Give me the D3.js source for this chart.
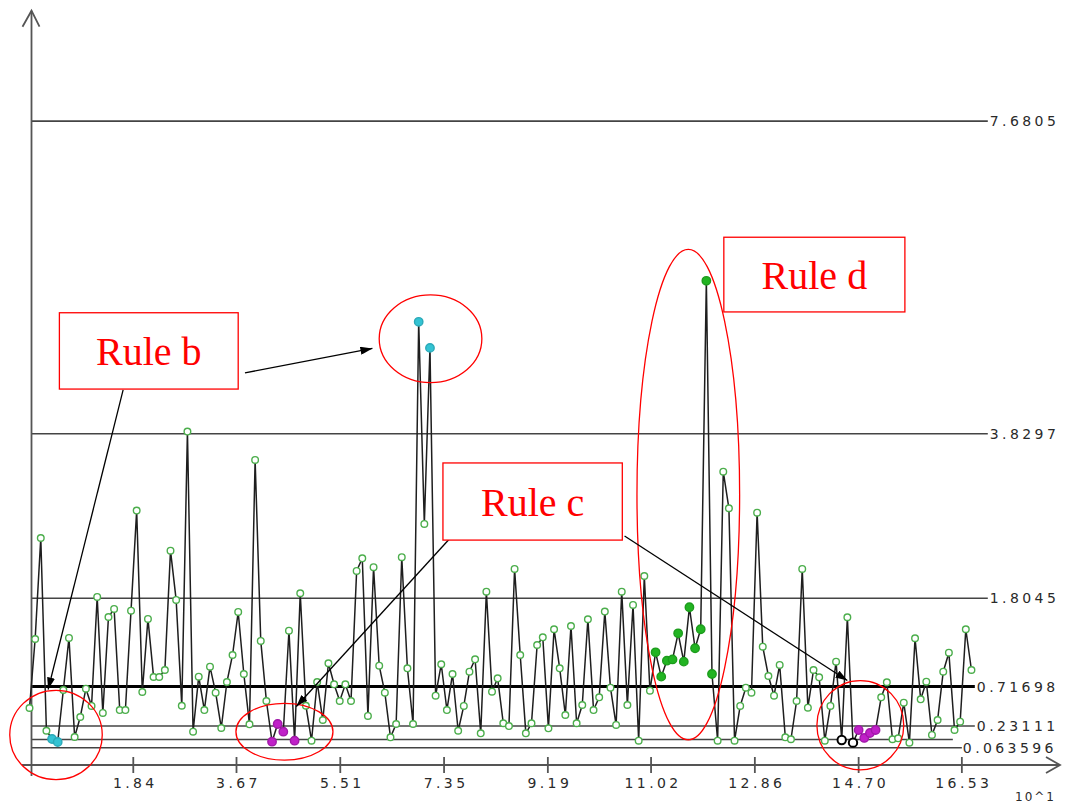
<html>
<head>
<script src="https://d3js.org/d3.v7.min.js"></script>
<style>
    body { margin: 0; background: #fff; }
    svg { display: block; background: #fff; }
    .limit { stroke: #444; stroke-width: 1.6px; }
    .center { stroke: #000; stroke-width: 3px; }
    .axis-line { stroke: #555; stroke-width: 1.8px; fill: none; }
    .data-line { fill: none; stroke: #1e1e1e; stroke-width: 1.5px; }
    .lbl { font-family: 'DejaVu Sans', sans-serif; font-size: 14px; fill: #2a2a2a; letter-spacing: 3.4px; }
    .rule-box { fill: #fff; stroke: #f00; stroke-width: 1.3px; }
    .rule-text { font-family: 'Liberation Serif', 'Times New Roman', serif; font-size: 40px; fill: #f00; }
    .ring { fill: none; stroke: #f00; stroke-width: 1.3px; }
    .note-arrow { stroke: #000; stroke-width: 1.3px; }
</style>
</head>
<body>
<svg id="chart" width="1067" height="805"></svg>
<script>
    // sample statistic, one value per subgroup
    var values = [
        0.452, 1.302, 2.546, 0.172, 0.070, 0.033, 0.674, 1.315, 0.095, 0.341,
        0.690, 0.477, 1.820, 0.391, 1.573, 1.672, 0.427, 0.427, 1.651, 2.883,
        0.649, 1.549, 0.834, 0.834, 0.920, 2.390, 1.783, 0.480, 3.856, 0.160,
        0.838, 0.427, 0.961, 0.641, 0.206, 0.772, 1.105, 1.635, 0.871, 0.251,
        3.507, 1.278, 0.538, 0.037, 0.255, 0.160, 1.404, 0.049, 1.865, 0.480,
        0.049, 0.772, 0.304, 1.003, 0.744, 0.538, 0.744, 0.538, 2.140, 2.296,
        0.354, 2.186, 0.973, 0.641, 0.091, 0.255, 2.309, 0.941, 0.255, 5.208,
        2.719, 4.887, 0.604, 0.991, 0.427, 0.871, 0.172, 0.477, 0.899, 1.052,
        0.140, 1.885, 0.653, 0.818, 0.264, 0.230, 2.165, 1.105, 0.140, 0.264,
        1.228, 1.323, 0.202, 1.422, 0.941, 0.366, 1.462, 0.264, 0.489, 1.545,
        0.427, 0.584, 1.639, 0.702, 0.243, 1.885, 0.489, 1.721, 0.049, 2.078,
        0.665, 1.138, 0.838, 1.035, 1.050, 1.372, 1.023, 1.693, 1.188, 1.422,
        5.713, 0.871, 0.049, 3.363, 2.912, 0.049, 0.477, 0.702, 0.641, 2.858,
        1.207, 0.846, 0.604, 0.982, 0.091, 0.067, 0.538, 2.165, 0.456, 0.920,
        0.830, 0.049, 0.477, 1.023, 0.058, 1.570, 0.025, 0.181, 0.083, 0.144,
        0.181, 0.584, 0.769, 0.067, 0.079, 0.517, 0.025, 1.311, 0.559, 0.776,
        0.120, 0.304, 0.899, 1.133, 0.181, 0.283, 1.422, 0.920
    ];

    // points flagged by each rule
    var cyanIdx = [4, 5, 69, 71];
    var magentaIdx = [43, 44, 45, 47, 147, 148, 149, 150];
    var greenIdx = [111, 112, 113, 114, 115, 116, 117, 118, 119, 120, 121];
    var blackIdx = [144, 146];

    var limitValues = [7.6805, 3.8297, 1.8045, 0.71698, 0.23111, 0.063596];
    var limitLabels = ['7.6805', '3.8297', '1.8045', '0.71698', '0.23111', ''];
    var bottomLabel = '0.063596';

    var tickLabels = ['1.84', '3.67', '5.51', '7.35', '9.19', '11.02', '12.86', '14.70', '16.53'];

    var svg = d3.select('#chart');

    var xscale = d3.scaleLinear().domain([0, 18.27]).range([29.5, 1060]);
    var yscale = d3.scaleLinear().domain([-0.25, 9.04]).range([765, 10.7]);

    var axisX = xscale(0) + 2;

    // limit lines
    var lineEnd = [16.99, 16.99, 16.99, 16.76, 16.76, 16.37];
    limitValues.forEach(function(v, k) {
        svg.append('line')
            .attr('class', k === 3 ? 'center' : 'limit')
            .attr('x1', axisX).attr('x2', xscale(lineEnd[k]))
            .attr('y1', yscale(v)).attr('y2', yscale(v));
        if (limitLabels[k]) {
            svg.append('text')
                .attr('class', 'lbl')
                .attr('x', xscale(lineEnd[k]) + 2)
                .attr('y', yscale(v))
                .attr('dy', '0.36em')
                .text(limitLabels[k]);
        }
    });

    // zero line carrying the lowest label
    svg.append('line')
        .attr('class', 'limit')
        .attr('x1', axisX).attr('x2', xscale(16.53))
        .attr('y1', yscale(0) + 3).attr('y2', yscale(0) + 3);
    svg.append('text')
        .attr('class', 'lbl')
        .attr('x', xscale(16.53) + 1)
        .attr('y', yscale(0) + 3)
        .attr('dy', '0.36em')
        .text(bottomLabel);

    // axes
    svg.append('line').attr('class', 'axis-line')
        .attr('x1', axisX).attr('x2', axisX)
        .attr('y1', 776).attr('y2', yscale(9.04));
    svg.append('path').attr('class', 'axis-line')
        .attr('d', 'M' + (axisX - 9) + ',' + (yscale(9.04) + 16) + 'L' + axisX + ',' + yscale(9.04) +
                   'L' + (axisX + 8) + ',' + (yscale(9.04) + 16));

    svg.append('line').attr('class', 'axis-line')
        .attr('x1', 22).attr('x2', xscale(18.27))
        .attr('y1', yscale(-0.25)).attr('y2', yscale(-0.25));
    svg.append('path').attr('class', 'axis-line')
        .attr('d', 'M' + (xscale(18.27) - 14) + ',' + (yscale(-0.25) - 8) + 'L' + xscale(18.27) + ',' +
                   yscale(-0.25) + 'L' + (xscale(18.27) - 14) + ',' + (yscale(-0.25) + 8));

    tickLabels.forEach(function(t) {
        var x = xscale(+t);
        svg.append('line').attr('class', 'axis-line')
            .attr('x1', x).attr('x2', x)
            .attr('y1', yscale(-0.25) - 8).attr('y2', yscale(-0.25) + 8);
        svg.append('text')
            .attr('class', 'lbl')
            .attr('x', x + 2)
            .attr('y', 788)
            .attr('text-anchor', 'middle')
            .text(t);
    });

    svg.append('text')
        .attr('class', 'lbl')
        .style('font-size', '12px')
        .style('letter-spacing', '2px')
        .attr('x', 1015).attr('y', 801)
        .text('10^1');

    // data polyline
    var line = d3.line()
        .x(function(d, i) { return xscale(i / 10); })
        .y(function(d) { return yscale(d); });

    svg.append('path')
        .datum(values)
        .attr('class', 'data-line')
        .attr('d', line);

    function kindOf(i) {
        if (cyanIdx.indexOf(i) >= 0) return 'cyan';
        if (magentaIdx.indexOf(i) >= 0) return 'magenta';
        if (greenIdx.indexOf(i) >= 0) return 'green';
        if (blackIdx.indexOf(i) >= 0) return 'black';
        return 'normal';
    }
    var fills = { normal: '#fff', cyan: '#33c3d3', magenta: '#c020c8', green: '#22b422', black: '#fff' };
    var strokes = { normal: '#4cae4c', cyan: '#2aa9b8', magenta: '#a018a8', green: '#1c9c1c', black: '#000' };

    svg.append('g').selectAll('circle')
        .data(values)
        .enter().append('circle')
        .attr('cx', function(d, i) { return xscale(i / 10); })
        .attr('cy', function(d) { return yscale(d); })
        .attr('r', function(d, i) { return kindOf(i) === 'normal' ? 3.3 : 4.2; })
        .attr('fill', function(d, i) { return fills[kindOf(i)]; })
        .attr('stroke', function(d, i) { return strokes[kindOf(i)]; })
        .attr('stroke-width', function(d, i) { return kindOf(i) === 'black' ? 2 : 1.4; });

    // annotations, in data units
    var rings = [
        { cx: 0.47, cy: 0.12, rx: 0.82, ry: 0.55 },
        { cx: 7.11, cy: 5.00, rx: 0.91, ry: 0.54 },
        { cx: 4.52, cy: 0.16, rx: 0.86, ry: 0.35 },
        { cx: 11.68, cy: 3.08, rx: 0.91, ry: 3.02 },
        { cx: 14.73, cy: 0.24, rx: 0.77, ry: 0.55 }
    ];
    rings.forEach(function(r) {
        svg.append('ellipse').attr('class', 'ring')
            .attr('cx', xscale(r.cx)).attr('cy', yscale(r.cy))
            .attr('rx', xscale(r.rx) - xscale(0))
            .attr('ry', yscale(0) - yscale(r.ry));
    });

    svg.append('defs').append('marker')
        .attr('id', 'head')
        .attr('viewBox', '0 0 12 8')
        .attr('refX', 12).attr('refY', 4)
        .attr('markerWidth', 12).attr('markerHeight', 8)
        .attr('markerUnits', 'userSpaceOnUse')
        .attr('orient', 'auto')
        .append('path').attr('d', 'M0,0L12,4L0,8Z').attr('fill', '#000');

    var arrows = [
        { x1: 3.82, y1: 4.58, x2: 6.08, y2: 4.88 },
        { x1: 1.66, y1: 4.37, x2: 0.33, y2: 0.68 },
        { x1: 7.44, y1: 2.53, x2: 4.73, y2: 0.47 },
        { x1: 10.55, y1: 2.57, x2: 14.50, y2: 0.79 }
    ];
    arrows.forEach(function(a) {
        svg.append('line').attr('class', 'note-arrow')
            .attr('x1', xscale(a.x1)).attr('y1', yscale(a.y1))
            .attr('x2', xscale(a.x2)).attr('y2', yscale(a.y2))
            .attr('marker-end', 'url(#head)');
    });

    var boxes = [
        { text: 'Rule b', u0: 0.53, u1: 3.70, vTop: 5.32, vBot: 4.38 },
        { text: 'Rule c', u0: 7.33, u1: 10.51, vTop: 3.47, vBot: 2.52 },
        { text: 'Rule d', u0: 12.31, u1: 15.52, vTop: 6.25, vBot: 5.33 }
    ];
    boxes.forEach(function(b) {
        var x0 = xscale(b.u0), x1 = xscale(b.u1), y0 = yscale(b.vTop), y1 = yscale(b.vBot);
        svg.append('rect').attr('class', 'rule-box')
            .attr('x', x0).attr('y', y0)
            .attr('width', x1 - x0).attr('height', y1 - y0);
        svg.append('text').attr('class', 'rule-text')
            .attr('x', (x0 + x1) / 2).attr('y', (y0 + y1) / 2 + 14)
            .attr('text-anchor', 'middle')
            .text(b.text);
    });
</script>
</body>
</html>
